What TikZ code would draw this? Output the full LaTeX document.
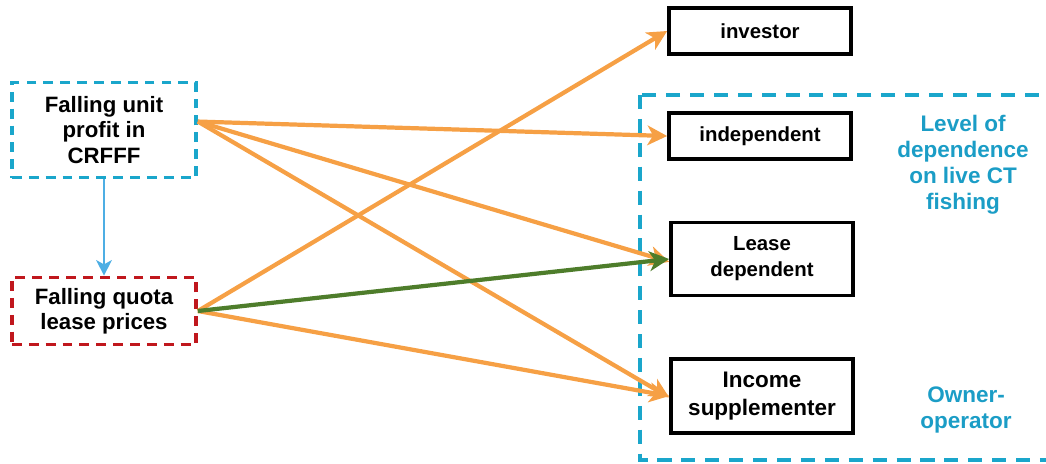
\documentclass[tikz,border=0pt]{standalone}
\usepackage{fontspec}
\setmainfont{Liberation Sans}
\usetikzlibrary{arrows.meta,calc}
\definecolor{dashblue}{HTML}{1AA6CB}
\definecolor{dashred}{HTML}{C0171D}
\definecolor{linkorange}{HTML}{F6A045}
\definecolor{linkgreen}{HTML}{4E7D2B}
\definecolor{downblue}{HTML}{4DAEE4}
\definecolor{labelblue}{HTML}{1B9DC6}
\tikzstyle{causebox}=[draw,line width=2.6pt,dash pattern=on 7pt off 5pt,align=center,minimum width=4.6cm,font=\bfseries\fontsize{15.8}{18}\selectfont]
\tikzstyle{typebox}=[draw,line width=2.6pt,align=center,minimum width=4.55cm,font=\bfseries\fontsize{14.5}{18.5}\selectfont]
\tikzstyle{link}=[-{Stealth[length=14pt,width=14pt,inset=4pt]},line width=3pt,linkorange]
\tikzstyle{sidelabel}=[align=center,text=labelblue,font=\bfseries\fontsize{16}{18.5}\selectfont]

\begin{document}
\begin{tikzpicture}[x=0.025cm,y=-0.025cm] % one unit = one pixel of the reference
\useasboundingbox (0,0) rectangle (1046,463);
% owner-operator frame, its right side runs off the page
\draw[dashblue,line width=2.6pt,dash pattern=on 10pt off 7pt] (640,95) rectangle (1060,460);
\node[sidelabel] (level) at (963,165) {Level of\\dependence\\on live CT\\fishing};
\node[sidelabel] (owner) at (966,410) {Owner-\\operator};

% drivers
\node[causebox,draw=dashblue,minimum height=2.375cm] (profit) at (104,130) {Falling unit\\profit in\\CRFFF};
\node[causebox,draw=dashred,minimum height=1.675cm] (quota) at (104,311) {Falling quota\\lease prices};
\draw[downblue,line width=2pt,-{Stealth[length=11pt,width=11pt,inset=3pt]}] (profit) -- (quota);

% fisher types
\node[typebox,minimum height=1.15cm] (investor) at (760,31) {investor};
\node[typebox,minimum height=1.15cm] (indep) at (760,136) {independent};
\node[typebox,minimum height=1.825cm] (lease) at (762,259) {Lease\\dependent};
\node[typebox,minimum height=1.85cm,font=\bfseries\fontsize{16}{19.5}\selectfont] (income) at (762,396) {Income\\supplementer};

\coordinate (p) at ([yshift=6pt]profit.east);
\draw[link] (p) -- (indep.west);
\draw[link] (p) -- ([yshift=-2pt]lease.west);
\draw[link] (p) -- ([yshift=-1pt]income.west);
\draw[link] (quota.east) -- (investor.west);
\draw[link] (quota.east) -- (income.west);
\draw[link,linkgreen] (quota.east) -- (lease.west);
\end{tikzpicture}
\end{document}
